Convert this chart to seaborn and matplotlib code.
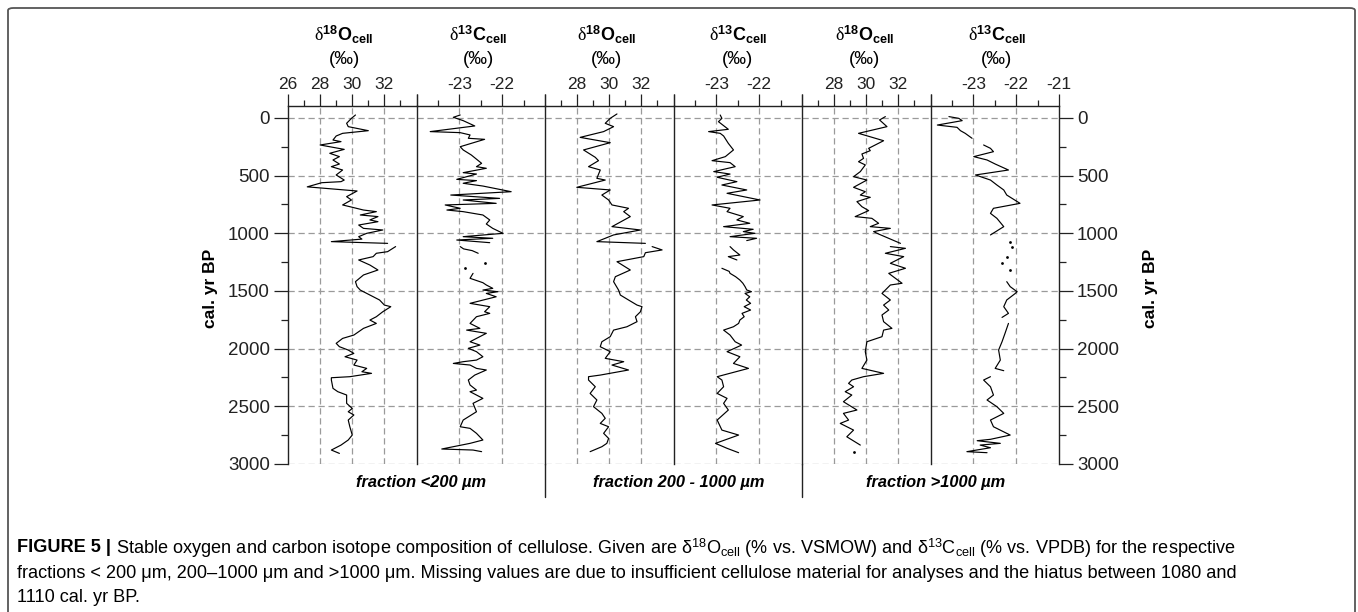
import numpy as np
import pandas as pd
import matplotlib
matplotlib.use("Agg")
import matplotlib.pyplot as plt
import seaborn as sns
from matplotlib.patches import FancyBboxPatch
from matplotlib.lines import Line2D
from matplotlib.ticker import MultipleLocator, FixedLocator, FuncFormatter

nan = np.nan

# ---------------- data (cal. yr BP vs. isotope value; nan = gap) ----------------
o18_fine_age = [-26, 3, 46, 75, 110, 133, 156, 191, 205, 234, 272, 306, 335, 364, 399, 422, 451, 494,
                538, 552, 561, 597, 633, 682, 711, 754, 769, 798, 812, 841, 855, 884, 899, 928, 957,
                971, 1000, 1029, 1050, 1072, 1087, nan,
                1115, 1159, 1173, 1202, 1231, 1275, 1318, 1361, 1419, 1462, 1492, 1535, 1578, 1622,
                1636, 1680, 1723, 1752, 1781, 1824, 1882, 1911, 1954, 1983, 2012, 2041, 2070, 2099,
                2142, 2171, 2200, 2214, 2243, 2252, 2272, 2344, 2373, 2402, 2474, 2518, 2547, 2575,
                2619, 2677, 2749, 2792, 2836, 2879, 2908]
o18_fine_val = [30.2, 29.95, 29.65, 29.75, 31.0, 29.4, 29.0, 28.8, 29.3, 28.0, 29.5, 28.6, 29.2, 28.8,
                29.2, 28.7, 29.4, 29.0, 29.5, 29.3, 28.1, 27.2, 30.3, 29.65, 29.95, 29.4, 29.85, 30.7,
                31.5, 30.5, 31.6, 31.1, 31.6, 30.4, 30.7, 31.9, 30.9, 30.4, 30.6, 28.7, 32.2, nan,
                32.7, 32.2, 31.5, 31.3, 30.4, 31.1, 31.6, 30.7, 30.2, 30.3, 30.5, 31.1, 31.7, 32.0,
                32.4, 31.9, 31.5, 31.1, 31.5, 30.7, 30.1, 29.4, 29.0, 29.2, 29.75, 30.1, 29.55, 30.3,
                30.1, 30.9, 30.6, 31.2, 29.85, 28.7, 28.7, 28.8, 29.1, 29.65, 29.65, 30.0, 29.75, 30.1,
                29.75, 29.85, 30.0, 29.75, 29.3, 28.7, 29.2]

c13_fine_age = [-26, -6, 23, 69, 118, 127, 147, 176, 185, 249, 277, 321, 393, 422, 436, 474, 486, 532,
                543, 566, 590, 639, 668, 697, 711, 740, 754, 783, 798, 812, 841, 884, 919, 957, 1000,
                1029, 1043, 1058, 1081, nan,
                1115, 1135, 1150, 1173, nan, 1260, nan, 1303, nan,
                1347, 1390, 1428, 1448, 1477, 1492, 1506, 1521, 1550, 1607, 1636, 1680, 1694, 1723,
                1781, 1824, 1839, 1867, 1911, 1940, 1969, 1997, 2026, 2070, 2099, 2113, 2128, 2142,
                2171, 2185, 2229, 2272, 2315, 2359, 2373, 2431, 2474, 2547, 2619, 2677, 2691, 2734,
                2792, 2821, 2870, 2879, 2893]
c13_fine_val = [-22.98, -23.14, -22.91, -22.64, -23.68, -22.98, -22.75, -22.79, -22.41, -22.98, -22.91,
                -22.72, -22.48, -22.6, -22.37, -22.91, -22.6, -23.06, -22.6, -22.91, -22.45, -21.79,
                -23.2, -22.06, -22.91, -22.14, -23.33, -22.98, -23.29, -22.91, -22.45, -22.29, -22.37,
                -22.22, -21.98, -22.91, -22.22, -23.06, -22.29, nan,
                -22.98, -22.9, -22.7, -22.56, nan, -22.41, nan, -22.87, nan,
                -22.68, -22.75, -22.45, -22.37, -22.22, -22.45, -22.1, -22.37, -22.14, -22.75, -22.29,
                -22.41, -22.29, -22.6, -22.75, -22.52, -22.83, -22.37, -22.6, -22.75, -22.52, -22.79,
                -22.6, -22.45, -22.6, -22.91, -23.14, -22.75, -22.6, -22.37, -22.64, -22.79, -22.75,
                -22.6, -22.75, -22.45, -22.68, -22.6, -22.91, -22.98, -22.75, -22.6, -22.45, -22.75,
                -23.41, -22.68, -22.48]

o18_mid_age = [-35, 3, 46, 75, 118, 168, 214, 277, 341, 370, 422, 451, 523, 538, 601, 624, 668, 711,
               754, 783, 812, 855, 942, 971, 1014, 1072, 1087, nan,
               1115, 1144, 1168, 1202, 1246, 1318, 1376, 1419, 1492, 1535, 1578, 1622, 1636, 1680,
               1723, 1766, 1810, 1839, 1896, 1940, 1983, 2026, 2084, 2113, 2142, 2185, 2229, 2243,
               2272, 2330, 2388, 2445, 2503, 2561, 2604, 2648, 2677, 2734, 2778, 2821, 2850, 2893]
o18_mid_val = [30.48, 30.06, 29.75, 30.27, 29.65, 28.19, 30.06, 28.4, 29.13, 29.33, 28.71, 29.44, 29.23,
               29.75, 27.98, 30.06, 29.54, 29.96, 30.17, 31.2, 30.9, 31.31, 30.17, 31.94, 30.27, 29.23,
               32.25, nan,
               32.67, 33.29, 32.25, 32.15, 30.48, 31.31, 30.38, 30.27, 30.58, 30.69, 31.2, 31.73, 32.04,
               31.94, 31.63, 31.73, 31.1, 30.27, 30.06, 29.54, 29.44, 30.06, 29.75, 30.9, 30.17, 31.2,
               29.44, 28.71, 28.71, 29.13, 28.81, 29.23, 29.02, 29.54, 29.75, 29.44, 29.96, 29.65, 29.96,
               29.85, 29.54, 28.81]

c13_mid_age = [-26, 3, 32, 98, 118, 133, 156, 220, 277, 335, 370, 387, 422, 465, 486, 514, 552, 581, 624,
               653, 711, 754, 783, 812, 855, 884, 913, 942, 965, 985, 1000, 1029, 1043, 1063, nan,
               1115, 1144, 1188, 1202, 1231, nan,
               1303, 1330, 1347, 1376, 1405, 1433, 1462, 1491, 1506, 1521, 1550, 1578, 1607, 1636,
               1665, 1694, 1723, 1752, 1781, 1810, 1839, 1882, 1940, 1969, 2026, 2070, 2128,
               2171, 2243, 2272, 2330, 2388, 2431, 2474, 2532, 2619, 2706, 2749, 2821, 2864, 2902]
c13_mid_val = [-22.91, -22.87, -22.95, -22.72, -23.18, -22.91, -22.83, -22.72, -22.6, -22.79, -23.1,
               -22.68, -22.56, -23.06, -22.68, -22.98, -22.52, -22.87, -22.29, -22.75, -21.98, -23.1,
               -22.68, -22.75, -22.37, -22.52, -22.22, -22.83, -22.14, -22.37, -22.1, -22.68, -22.06,
               -22.29, nan,
               -22.68, -22.6, -22.45, -22.72, -22.52, nan,
               -22.87, -22.7, -22.68, -22.55, -22.45, -22.38, -22.33, -22.29, -22.18, -22.33, -22.22,
               -22.3, -22.2, -22.35, -22.2, -22.4, -22.35, -22.45, -22.48, -22.6, -22.83, -22.68, -22.56,
               -22.41, -22.75, -22.45, -22.6, -22.25, -22.98, -22.87, -22.83, -22.98, -22.75, -22.83,
               -22.72, -22.98, -22.87, -22.48, -23.02, -22.75, -22.48]

o18_coarse_age = [-12, 17, 75, 133, 197, 263, 283, 312, 350, 379, 407, 465, 509, 538, 601, 639, 668, 688,
                  725, 769, 803, 855, 870, 913, 942, 957, 985, 1006, 1087, nan,
                  1115, 1130, 1173, 1202, 1260, 1303, 1347, 1433, 1448, 1521, 1578, 1622, 1665, 1708,
                  1766, 1824, 1839, 1896, 1940, 2026, 2099, 2171, 2214, 2243, 2272, 2301, 2330, 2373,
                  2402, 2460, 2532, 2561, 2619, 2648, 2706, 2764, 2836, nan, 2893]
o18_coarse_val = [31.19, 30.83, 31.29, 29.52, 31.08, 30.15, 30.25, 29.73, 29.83, 29.52, 29.94, 29.63,
                  29.21, 30.04, 29.21, 29.94, 29.63, 30.25, 29.42, 29.73, 30.15, 29.31, 30.35, 30.77,
                  30.25, 31.5, 30.46, 30.77, 32.13, nan,
                  31.5, 32.44, 31.19, 32.33, 31.5, 32.44, 31.4, 32.23, 31.5, 30.98, 31.5, 31.08, 31.4,
                  30.98, 31.08, 31.6, 31.08, 30.98, 30.04, 29.94, 30.04, 29.73, 31.08, 29.83, 29.1, 28.9,
                  29.21, 28.69, 29.1, 28.58, 29.42, 28.58, 28.9, 28.38, 29.21, 28.79, 29.63, nan, 29.21]

c13_coarse_age = [-12, 3, 23, 61, 81, 110, 133, 176, nan,
                  234, 263, 292, 335, 364, 399, 451, 494, 538, 581, 624, 668, 740, 783, 827, 870, 942,
                  1014, nan, 1072, nan, 1115, nan, 1202, nan, 1260, nan, 1318, nan,
                  1419, 1462, 1506, 1521, 1578, 1636, 1694, 1729, nan,
                  1781, 1867, 1940, 2012, 2099, 2171, 2191, nan,
                  2243, 2272, 2330, 2402, 2445, 2503, 2561, 2619, 2677, 2749, 2786, 2798, 2821, 2836,
                  2859, 2893, 2902]
c13_coarse_val = [-23.57, -23.34, -23.26, -23.84, -23.38, -23.3, -23.19, -23.03, nan,
                  -22.76, -22.6, -22.53, -22.99, -22.68, -22.49, -22.18, -22.95, -22.6, -22.45, -22.29,
                  -22.22, -21.91, -22.53, -22.6, -22.45, -22.29, -22.6, nan, -22.14, nan, -22.1, nan,
                  -22.22, nan, -22.33, nan, -22.14, nan,
                  -22.22, -22.14, -21.98, -22.02, -22.22, -22.29, -22.18, -22.33, nan,
                  -22.18, -22.26, -22.33, -22.41, -22.37, -22.49, -22.29, nan,
                  -22.6, -22.76, -22.6, -22.53, -22.68, -22.45, -22.29, -22.6, -22.53, -22.14, -22.6,
                  -22.91, -22.37, -22.84, -22.6, -23.15, -22.68]

o18_title = r"$\mathrm{\delta}^{\mathbf{18}}\mathbf{O}_{\mathbf{cell}}$"
c13_title = r"$\mathrm{\delta}^{\mathbf{13}}\mathbf{C}_{\mathbf{cell}}$"
unit_label = "(‰)"
fraction_labels = ["fraction <200 µm", "fraction 200 - 1000 µm", "fraction >1000 µm"]
y_label = "cal. yr BP"

# ---------------- style ----------------
sns.set_style("ticks")
plt.rcParams["font.family"] = ["Liberation Sans", "DejaVu Sans"]
plt.rcParams.update({
    "mathtext.fontset": "custom",
    "mathtext.rm": "Liberation Serif",
    "mathtext.it": "Liberation Serif:italic",
    "mathtext.bf": "Liberation Sans:bold",
    "mathtext.sf": "Liberation Sans",
    "axes.edgecolor": "#222222",
    "xtick.color": "#222222",
    "ytick.color": "#222222",
    "text.color": "black",
})

W, H = 1358, 612
fig = plt.figure(figsize=(W / 100, H / 100), dpi=100)
fig.patch.set_facecolor("white")


def fx(px):
    return px / W


def fy(py):
    return 1 - py / H


edges = [288, 416.5, 545, 673.5, 802, 930.5, 1059]
top_px, bot_px = 106, 464

o18_spec = dict(xlim=(26, 34), major=2, minor=1, grid=[28, 30, 32])
c13_spec = dict(xlim=(-24, -21), major=1, minor=0.5, grid=[-23, -22])
panels = [
    (o18_fine_age, o18_fine_val, o18_spec, [26, 28, 30, 32], o18_title, 344),
    (c13_fine_age, c13_fine_val, c13_spec, [-23, -22], c13_title, 478),
    (o18_mid_age, o18_mid_val, o18_spec, [28, 30, 32], o18_title, 607),
    (c13_mid_age, c13_mid_val, c13_spec, [-23, -22], c13_title, 738),
    (o18_coarse_age, o18_coarse_val, o18_spec, [28, 30, 32], o18_title, 865),
    (c13_coarse_age, c13_coarse_val, c13_spec, [-23, -22, -21], c13_title, 997),
]

grid_kw = dict(color="#9a9a9a", lw=0.9, ls=(0, (5, 3)), zorder=0.5)

for i, (ages, vals, spec, labelled, title, title_x) in enumerate(panels):
    x0, x1 = edges[i], edges[i + 1]
    ax = fig.add_axes([fx(x0), fy(bot_px), fx(x1 - x0), (bot_px - top_px) / H])
    ax.set_facecolor("none")

    df = pd.DataFrame({"age": ages, "val": vals})
    df["seg"] = df["val"].isna().cumsum()
    df = df.dropna()
    n = df.groupby("seg")["val"].transform("size")
    runs = df[n > 1]
    singles = df[n == 1]

    for gy in range(0, 3001, 500):
        ax.axhline(gy, **grid_kw)
    for gx in spec["grid"]:
        ax.axvline(gx, **grid_kw)

    sns.lineplot(data=runs, x="val", y="age", units="seg", estimator=None, orient="y",
                 sort=True, color="black", lw=0.85, ax=ax, legend=False, zorder=3)
    if len(singles):
        sns.scatterplot(data=singles, x="val", y="age", color="black", s=4, linewidth=0,
                        ax=ax, legend=False, zorder=3)

    ax.set_xlim(*spec["xlim"])
    ax.set_ylim(3000, -104)
    ax.set_xlabel("")
    ax.set_ylabel("")

    # top value axis
    lo, hi = spec["xlim"]
    majors = np.arange(lo, hi + 1e-9, spec["major"])
    ax.xaxis.set_major_locator(FixedLocator(majors))
    ax.xaxis.set_minor_locator(MultipleLocator(spec["minor"]))
    ax.xaxis.set_major_formatter(FuncFormatter(
        lambda v, p, lab=tuple(labelled): (f"{v:.0f}" if any(abs(v - l) < 1e-6 for l in lab) else "")))
    ax.tick_params(axis="x", which="major", direction="out", length=8.6, width=0.9,
                   top=True, bottom=False, labeltop=True, labelbottom=False,
                   labelsize=12.5, pad=1.5)
    ax.tick_params(axis="x", which="minor", direction="out", length=4.3, width=0.9,
                   top=True, bottom=False)

    # age axis
    ax.yaxis.set_major_locator(MultipleLocator(500))
    ax.yaxis.set_minor_locator(MultipleLocator(250))
    ax.yaxis.set_major_formatter(FuncFormatter(lambda v, p: f"{v:.0f}"))
    first, last = i == 0, i == len(panels) - 1
    ax.tick_params(axis="y", which="major", direction="out", length=10, width=0.9,
                   left=first, right=last, labelleft=first, labelright=last,
                   labelsize=13.5, pad=3)
    ax.tick_params(axis="y", which="minor", direction="out", length=5, width=0.9,
                   left=first, right=last)

    for side in ("top", "left", "right", "bottom"):
        ax.spines[side].set_linewidth(1.0)
    ax.spines["bottom"].set_visible(False)
    ax.spines["right"].set_visible(last)

    fig.text(fx(title_x), fy(35), title, ha="center", va="center", fontsize=13)
    fig.text(fx(title_x), fy(60), unit_label, ha="center", va="center", fontsize=13.5)

# age axis titles on both sides
for lx in (210, 1150):
    fig.text(fx(lx), fy(288), y_label, rotation=90, ha="center", va="center",
             fontsize=12.5, fontweight="bold")

# fraction labels below the panel pairs
for k, lab in enumerate(fraction_labels):
    cx = edges[2 * k + 1] + 5
    fig.text(fx(cx), fy(483), lab, ha="center", va="center", fontsize=11.8,
             fontweight="bold", fontstyle="italic")
for px in (545, 802):
    fig.add_artist(Line2D([fx(px), fx(px)], [fy(bot_px), fy(497)], transform=fig.transFigure,
                          color="#222222", lw=1.0))

# rounded frame
fig.add_artist(FancyBboxPatch((fx(8), -0.05), fx(1355 - 8), fy(8) + 0.05,
                              boxstyle="round,pad=0,rounding_size=0.004",
                              transform=fig.transFigure, fill=False, ec="#555555", lw=1.3))

# caption, sized so the first line runs across the frame
cap_bold = "FIGURE 5 |"
cap_l1 = (" Stable oxygen and carbon isotope composition of cellulose. Given are "
          r"δ$^{\mathsf{18}}$O$_{\mathsf{cell}}$ (% vs. VSMOW) and "
          r"δ$^{\mathsf{13}}$C$_{\mathsf{cell}}$ (% vs. VPDB) for the respective")
cap_l2 = ("fractions < 200 μm, 200–1000 μm and >1000 μm. Missing values are due to insufficient "
          "cellulose material for analyses and the hiatus between 1080 and")
cap_l3 = "1110 cal. yr BP."

renderer = fig.canvas.get_renderer()
cap_size = 11.5
t_b = fig.text(fx(17), fy(548), cap_bold, fontsize=cap_size, fontweight="bold",
               ha="left", va="center")
t_1 = fig.text(0, fy(548), cap_l1, fontsize=cap_size, ha="left", va="center")
for _ in range(3):
    bb = t_b.get_window_extent(renderer)
    t_1.set_x(bb.x1 / W)
    right = t_1.get_window_extent(renderer).x1
    cap_size *= (1240 - 17) / (right - 17)
    t_b.set_fontsize(cap_size)
    t_1.set_fontsize(cap_size)
bb = t_b.get_window_extent(renderer)
t_1.set_x(bb.x1 / W)
fig.text(fx(17), fy(573), cap_l2, fontsize=cap_size, ha="left", va="center")
fig.text(fx(17), fy(598), cap_l3, fontsize=cap_size, ha="left", va="center")

fig.savefig("out.png", dpi=100, facecolor="white")
